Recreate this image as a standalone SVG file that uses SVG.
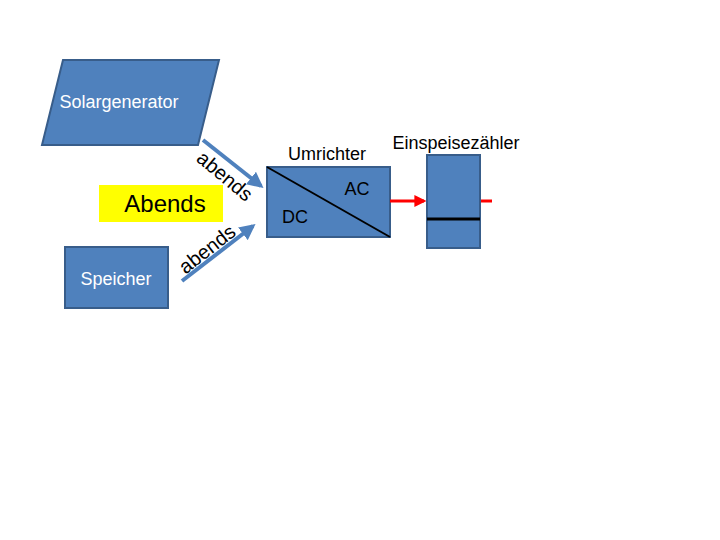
<svg xmlns="http://www.w3.org/2000/svg" width="720" height="540" viewBox="0 0 720 540">
<defs>
<style>
.box{fill:#4F81BD;stroke:#385D8A;stroke-width:2}
.wt{font-family:"Liberation Sans",Arial,sans-serif;fill:#FFFFFF;font-size:18px;text-anchor:middle}
.bt{font-family:"Liberation Sans",Arial,sans-serif;fill:#000000;text-anchor:middle}
.conn{stroke:#4F81BD;stroke-width:4;fill:none}
</style>
<marker id="ab" viewBox="0 0 10 10" refX="8" refY="5" markerWidth="4" markerHeight="4" orient="auto" markerUnits="strokeWidth">
<path d="M0,0 L10,5 L0,10 Z" fill="#4F81BD"/>
</marker>
<marker id="ar" viewBox="0 0 10 10" refX="8" refY="5" markerWidth="4" markerHeight="4" orient="auto" markerUnits="strokeWidth">
<path d="M0,0 L10,5 L0,10 Z" fill="#FF0000"/>
</marker>
</defs>
<rect width="720" height="540" fill="#FFFFFF"/>
<g id="solargenerator">
<polygon class="box" points="63,60 219,60 198,145 42,145"/>
<text class="wt" x="119" y="108">Solargenerator</text>
</g>
<g id="abends-label">
<rect x="99" y="185" width="124" height="37" fill="#FFFF00"/>
<text class="bt" x="165" y="212" font-size="24">Abends</text>
</g>
<g id="speicher">
<rect class="box" x="65" y="247" width="103" height="61"/>
<text class="wt" x="116" y="285">Speicher</text>
</g>
<g id="umrichter">
<rect class="box" x="267" y="167" width="123" height="70"/>
<line x1="267" y1="167" x2="390" y2="237" stroke="#000000" stroke-width="2"/>
<text class="bt" x="327" y="160" font-size="18">Umrichter</text>
<text class="bt" x="357" y="195" font-size="18">AC</text>
<text class="bt" x="295" y="223" font-size="18">DC</text>
</g>
<g id="einspeisezaehler">
<rect class="box" x="427" y="155" width="53" height="93"/>
<line x1="427" y1="219" x2="480" y2="219" stroke="#000000" stroke-width="3"/>
<text class="bt" x="456" y="149" font-size="18">Einspeisezähler</text>
</g>
<g id="connectors">
<line class="conn" x1="203" y1="140" x2="261" y2="186" marker-end="url(#ab)"/>
<line class="conn" x1="182" y1="281" x2="253" y2="226" marker-end="url(#ab)"/>
<text class="bt" font-size="20" transform="translate(225,176) rotate(40)" x="0" y="7">abends</text>
<text class="bt" font-size="20" transform="translate(207,249) rotate(-38)" x="0" y="7">abends</text>
<line x1="390" y1="201" x2="424" y2="201" stroke="#FF0000" stroke-width="3" marker-end="url(#ar)"/>
<line x1="481" y1="201" x2="492" y2="201" stroke="#FF0000" stroke-width="3"/>
</g>
</svg>
